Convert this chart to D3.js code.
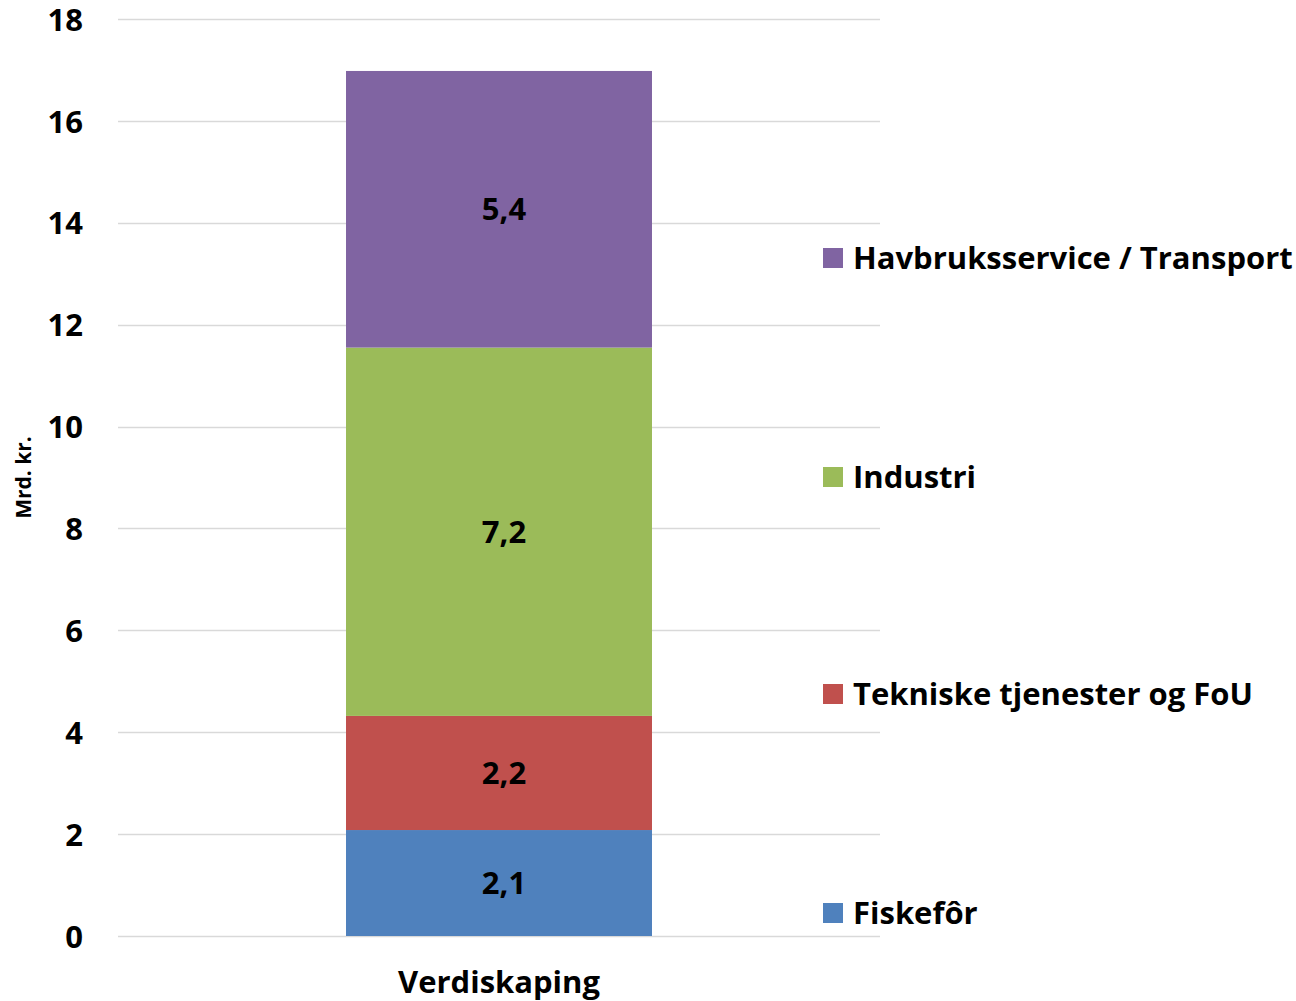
<!DOCTYPE html>
<html>
<head>
<meta charset="utf-8">
<script src="https://cdn.jsdelivr.net/npm/d3@7"></script>
<style>
  body { margin: 0; background: #fff; }
  text { font-family: "Open Sans", "Noto Sans", sans-serif; font-weight: bold; fill: #000; }
</style>
</head>
<body>
<script>
// data
var categories = ["Verdiskaping"];
var seriesNames = ["Fiskefôr", "Tekniske tjenester og FoU", "Industri", "Havbruksservice / Transport"];
var seriesValues = [2.08, 2.24, 7.23, 5.43];
var seriesColors = ["#4F81BD", "#C0504D", "#9BBB59", "#8064A2"];
var yTicks = [0, 2, 4, 6, 8, 10, 12, 14, 16, 18];

var width = 1296, height = 1001;
var margin = {left: 118, right: 416, top: 19, bottom: 65};

var svg = d3.select("body").append("svg")
            .attr("width", width)
            .attr("height", height);

var y = d3.scaleLinear()
          .domain([0, 18])
          .range([height - margin.bottom, margin.top]);

var x = d3.scaleBand()
          .domain(categories)
          .range([margin.left, width - margin.right])
          .padding(0.427);

// gridlines
svg.append("g").selectAll("line")
   .data(yTicks)
   .enter().append("line")
   .attr("x1", margin.left)
   .attr("x2", width - margin.right)
   .attr("y1", function(d){ return Math.round(y(d)) + 0.5; })
   .attr("y2", function(d){ return Math.round(y(d)) + 0.5; })
   .attr("stroke", "#d9d9d9")
   .attr("stroke-width", 1.5);

// y axis labels
var yAxis = d3.axisLeft(y).tickValues(yTicks).tickSize(0).tickPadding(0);
var yG = svg.append("g")
   .attr("transform", "translate(" + (margin.left - 35) + ",0)")
   .call(yAxis);
yG.select(".domain").remove();
yG.selectAll("text")
   .style("font-size", "31px")
   .attr("dy", "0.36em");

svg.append("text")
   .attr("transform", "translate(31," + y(9.0) + ") rotate(-90)")
   .attr("text-anchor", "middle")
   .style("font-size", "21px")
   .text("Mrd. kr.");

// stack
var stackData = [];
var acc = 0;
for (var i = 0; i < seriesValues.length; i++) {
  stackData.push({name: seriesNames[i], v: seriesValues[i], y0: acc, y1: acc + seriesValues[i], color: seriesColors[i]});
  acc += seriesValues[i];
}

var bars = svg.append("g");
bars.selectAll("rect")
    .data(stackData)
    .enter().append("rect")
    .attr("x", x(categories[0]))
    .attr("width", x.bandwidth())
    .attr("y", function(d){ return y(d.y1); })
    .attr("height", function(d){ return y(d.y0) - y(d.y1); })
    .attr("fill", function(d){ return d.color; });

bars.selectAll("text")
    .data(stackData)
    .enter().append("text")
    .attr("x", x(categories[0]) + x.bandwidth() / 2 + 5)
    .attr("y", function(d){ return (y(d.y0) + y(d.y1)) / 2; })
    .attr("dy", "0.36em")
    .attr("text-anchor", "middle")
    .style("font-size", "31px")
    .text(function(d){ return d.v.toFixed(1).replace(".", ","); });

// x axis label
var xAxis = d3.axisBottom(x).tickSize(0).tickPadding(0);
var xG = svg.append("g")
   .attr("transform", "translate(0," + (height - margin.bottom + 46) + ")")
   .call(xAxis);
xG.select(".domain").remove();
xG.selectAll("text")
   .style("font-size", "31px")
   .attr("dy", "0.36em");

// legend
var legendY = [913, 694, 477, 258];
var legend = svg.append("g").selectAll("g")
   .data(stackData)
   .enter().append("g")
   .attr("transform", function(d, i){ return "translate(823," + legendY[i] + ")"; });
legend.append("rect")
   .attr("x", 0).attr("y", -10)
   .attr("width", 20).attr("height", 20)
   .attr("fill", function(d){ return d.color; });
legend.append("text")
   .attr("x", 30)
   .attr("dy", "0.36em")
   .style("font-size", "31px")
   .text(function(d){ return d.name; });
</script>
</body>
</html>
